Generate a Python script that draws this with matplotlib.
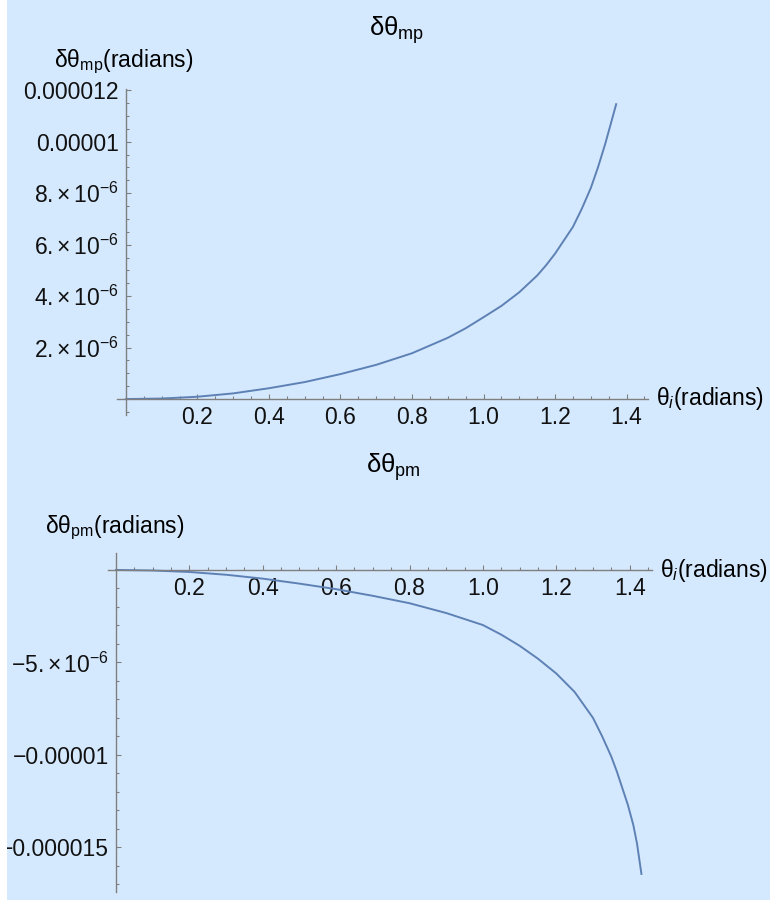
import matplotlib
matplotlib.use("Agg")
import matplotlib.pyplot as plt
import matplotlib.ticker as ticker
from matplotlib.patches import Rectangle
import numpy as np

plt.rcParams["font.family"] = ["Liberation Sans", "DejaVu Sans"]
plt.rcParams["mathtext.fontset"] = "custom"
plt.rcParams["mathtext.rm"] = "Liberation Sans"
plt.rcParams["mathtext.it"] = "Liberation Sans:italic"
plt.rcParams["mathtext.bf"] = "Liberation Sans:bold"

# ── Data ──────────────────────────────────────────────────────────────────────
theta_mp = [0.0, 0.1, 0.2, 0.3, 0.4, 0.5, 0.6, 0.7, 0.8, 0.9, 0.95, 1.0,
            1.05, 1.1, 1.15, 1.175, 1.2, 1.25, 1.275, 1.3, 1.32, 1.34, 1.355, 1.371]
dtheta_mp_e6 = [0.0, 0.02, 0.09, 0.22, 0.42, 0.66, 0.97, 1.33, 1.78, 2.38, 2.75, 3.18,
                3.62, 4.15, 4.8, 5.2, 5.65, 6.69, 7.4, 8.2, 9.0, 9.9, 10.65, 11.46]

theta_pm = [0.0, 0.1, 0.2, 0.3, 0.4, 0.5, 0.6, 0.7, 0.8, 0.9, 1.0, 1.05,
            1.1, 1.15, 1.2, 1.25, 1.3, 1.325, 1.35, 1.365, 1.38, 1.395, 1.41, 1.42, 1.432]
dtheta_pm_e6 = [0.0, -0.03, -0.11, -0.26, -0.47, -0.74, -1.04, -1.4, -1.8, -2.33, -2.98, -3.5,
                -4.1, -4.8, -5.6, -6.6, -8.0, -9.0, -10.1, -10.9, -11.8, -12.7, -13.8, -14.8, -16.44]

x_ticks = [0.2, 0.4, 0.6, 0.8, 1.0, 1.2, 1.4]
mp_yticks = [2e-6, 4e-6, 6e-6, 8e-6, 1e-5, 1.2e-5]
mp_ylabels = [r"$2.{\times}\,10^{-6}$", r"$4.{\times}\,10^{-6}$", r"$6.{\times}\,10^{-6}$",
              r"$8.{\times}\,10^{-6}$", "0.00001", "0.000012"]
pm_yticks = [-5e-6, -1e-5, -1.5e-5]
pm_ylabels = [r"$-5.{\times}\,10^{-6}$", "\u22120.00001", "\u22120.000015"]

BG = "#D5E9FE"
AX = "#7f7f7f"
LINE = "#5E81B5"
FS = 16.5

fig = plt.figure(figsize=(7.7, 9.0), dpi=100, facecolor=BG)


def style(ax):
    ax.set_facecolor(BG)
    for s in ("top", "right"):
        ax.spines[s].set_visible(False)
    for s in ("left", "bottom"):
        ax.spines[s].set_position(("data", 0))
        ax.spines[s].set_color(AX)
        ax.spines[s].set_linewidth(1.0)
    ax.xaxis.set_major_locator(ticker.FixedLocator(x_ticks))
    ax.xaxis.set_minor_locator(ticker.MultipleLocator(0.05))
    ax.tick_params(which="both", direction="in", color=AX, width=0.8,
                   labelsize=FS, labelcolor="#111111")
    ax.tick_params(which="major", length=3.4)
    ax.tick_params(which="minor", length=2.0)
    ax.tick_params(axis="x", pad=5)
    ax.tick_params(axis="y", pad=5)


# ── Top panel ─────────────────────────────────────────────────────────────────
ax1 = fig.add_axes([117 / 770, 1 - 415 / 900, (648 - 117) / 770, (415 - 89) / 900])
style(ax1)
ax1.plot(theta_mp, np.array(dtheta_mp_e6) * 1e-6, color=LINE, lw=1.4)
ax1.set_xlim(-0.025, 1.46)
ax1.set_ylim(-0.62e-6, 12.05e-6)
ax1.yaxis.set_major_locator(ticker.FixedLocator(mp_yticks))
ax1.yaxis.set_major_formatter(ticker.FixedFormatter(mp_ylabels))
ax1.yaxis.set_minor_locator(ticker.MultipleLocator(0.5e-6))

fig.text(397 / 770, 1 - 30 / 900, r"δθ$_\mathregular{mp}$", ha="center", va="center", fontsize=18.5)
fig.text(124 / 770, 1 - 62 / 900, r"δθ$_\mathregular{mp}$(radians)", ha="center", va="center", fontsize=FS)
fig.text(656 / 770, 1 - 399 / 900, r"θ$_i$(radians)", ha="left", va="center", fontsize=FS)

# ── Bottom panel ──────────────────────────────────────────────────────────────
ax2 = fig.add_axes([108.3 / 770, 1 - 891.7 / 900, (651.7 - 108.3) / 770, (891.7 - 553.3) / 900])
style(ax2)
ax2.plot(theta_pm, np.array(dtheta_pm_e6) * 1e-6, color=LINE, lw=1.4)
ax2.set_xlim(-0.021, 1.46)
ax2.set_ylim(-17.4e-6, 0.9e-6)
ax2.yaxis.set_major_locator(ticker.FixedLocator(pm_yticks))
ax2.yaxis.set_major_formatter(ticker.FixedFormatter(pm_ylabels))
ax2.yaxis.set_minor_locator(ticker.MultipleLocator(1e-6))

fig.text(393 / 770, 1 - 467 / 900, r"δθ$_\mathregular{pm}$", ha="center", va="center", fontsize=18.5)
fig.text(115 / 770, 1 - 528 / 900, r"δθ$_\mathregular{pm}$(radians)", ha="center", va="center", fontsize=FS)
fig.text(660 / 770, 1 - 570 / 900, r"θ$_i$(radians)", ha="left", va="center", fontsize=FS)

# white strip along the left edge, as in the screenshot
fig.patches.append(Rectangle((0, 0), 7 / 770, 1, transform=fig.transFigure,
                             facecolor="white", edgecolor="none", zorder=10))

fig.savefig("out.png", dpi=100, facecolor=BG)
